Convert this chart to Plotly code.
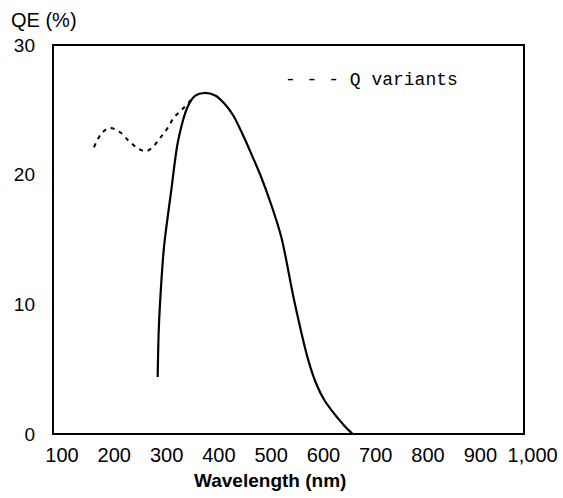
import plotly.graph_objects as go

# Main QE curve (solid)
wl_main = [283, 285, 289, 295, 309, 322, 341, 355, 372, 393, 410, 427, 442, 461, 481, 500, 520, 544, 571, 588, 602, 616, 628, 643, 656]
qe_main = [4.4, 8.0, 11.1, 14.4, 18.8, 22.6, 25.3, 26.1, 26.3, 26.1, 25.5, 24.6, 23.4, 21.7, 19.8, 17.7, 15.1, 10.3, 5.7, 3.7, 2.6, 1.8, 1.2, 0.5, 0.0]

# Q variants (dashed)
wl_q = [161, 176, 191, 210, 228, 246, 261, 275, 289, 302, 314, 329, 343, 349]
qe_q = [22.1, 23.2, 23.6, 23.3, 22.6, 22.0, 21.8, 22.2, 22.9, 23.6, 24.4, 25.0, 25.6, 25.9]

x_ticks = [100, 200, 300, 400, 500, 600, 700, 800, 900, 1000]
x_tick_text = ["100", "200", "300", "400", "500", "600", "700", "800", "900", "1,000"]
y_ticks = [0, 10, 20, 30]
y_tick_text = ["0", "10", "20", "30"]

fig = go.Figure()
fig.add_trace(go.Scatter(x=wl_q, y=qe_q, mode="lines", line=dict(color="black", width=2, dash="4px,5px", shape="spline"), showlegend=False))
fig.add_trace(go.Scatter(x=wl_main, y=qe_main, mode="lines", line=dict(color="black", width=2.2, shape="spline", smoothing=0.8), showlegend=False))

font_main = "Liberation Sans, Arial, sans-serif"
L, R, T, B = 53, 10, 45, 64
frame_right = (524 - L) / (563 - L - R)

fig.update_layout(
    width=563, height=498,
    margin=dict(l=L, r=R, t=T, b=B),
    paper_bgcolor="white", plot_bgcolor="white",
    xaxis=dict(range=[82.8, 1039], tickvals=x_ticks, ticktext=x_tick_text, showgrid=False, zeroline=False,
               showline=False, ticks="", automargin=False,
               ticklabelstandoff=7,
               tickfont=dict(family=font_main, size=20, color="black")),
    yaxis=dict(range=[0, 30], tickvals=y_ticks, ticktext=y_tick_text, showgrid=False, zeroline=False,
               showline=False, ticks="", automargin=False,
               ticklabelstandoff=17,
               tickfont=dict(family=font_main, size=19, color="black")),
    shapes=[
        dict(type="rect", xref="paper", yref="paper", x0=0, x1=frame_right, y0=0, y1=1,
             line=dict(color="black", width=2), fillcolor="rgba(0,0,0,0)", layer="above"),
    ],
    annotations=[
        dict(text="QE (%)", xref="paper", yref="paper", x=(9 - L) / 500, y=(434 - 20) / 389, xanchor="left", yanchor="middle",
             showarrow=False, font=dict(family=font_main, size=20, color="black")),
        dict(text="- - - Q variants", xref="paper", yref="paper", x=(283 - L) / 500, y=(434 - 80) / 389,
             xanchor="left", yanchor="middle",
             showarrow=False, font=dict(family="Liberation Mono, Courier New, monospace", size=18, color="black")),
        dict(text="<b>Wavelength (nm)</b>", xref="paper", yref="paper", x=(269.5 - L) / 500, y=(434 - 480) / 389,
             xanchor="center", yanchor="middle",
             showarrow=False, font=dict(family=font_main, size=19, color="black")),
    ],
)

fig.write_html("out.html", config={"responsive": False, "displayModeBar": False},
               post_script="document.body.style.margin='0';document.body.style.padding='0';")
